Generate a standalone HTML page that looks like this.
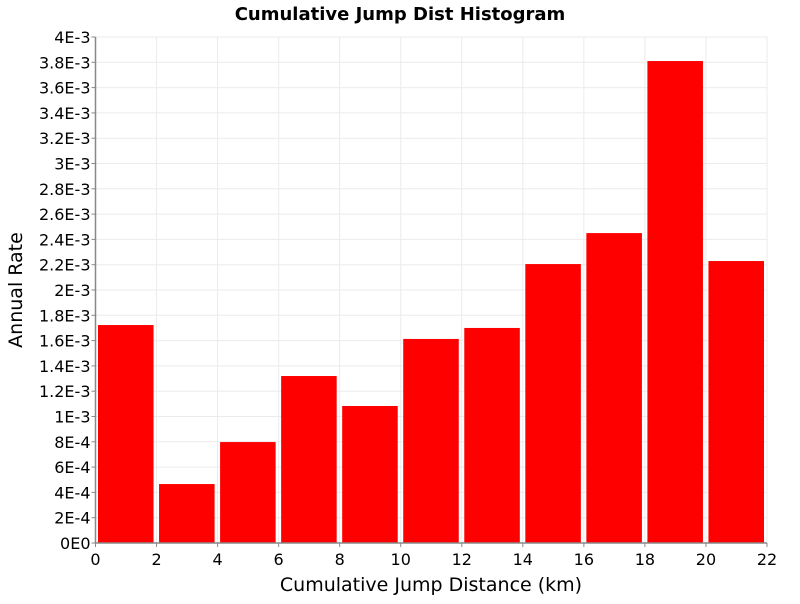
<!DOCTYPE html>
<html><head><meta charset="utf-8"><style>
body{margin:0;background:#fff;font-family:"DejaVu Sans","Liberation Sans",sans-serif;}
</style></head><body>
<svg width="800" height="600" xmlns="http://www.w3.org/2000/svg">
<g id="plot"></g>
</svg>
<script>
const binStarts=[0,2,4,6,8,10,12,14,16,18,20];
const rates=[1.723e-3,0.466e-3,0.798e-3,1.32e-3,1.083e-3,1.613e-3,1.70e-3,2.205e-3,2.45e-3,3.81e-3,2.229e-3];
const xTicks=[0,2,4,6,8,10,12,14,16,18,20,22];
const yTicks=[0,2e-4,4e-4,6e-4,8e-4,1e-3,1.2e-3,1.4e-3,1.6e-3,1.8e-3,2e-3,2.2e-3,2.4e-3,2.6e-3,2.8e-3,3e-3,3.2e-3,3.4e-3,3.6e-3,3.8e-3,4e-3];
const yTickLabels=["0E0","2E-4","4E-4","6E-4","8E-4","1E-3","1.2E-3","1.4E-3","1.6E-3","1.8E-3","2E-3","2.2E-3","2.4E-3","2.6E-3","2.8E-3","3E-3","3.2E-3","3.4E-3","3.6E-3","3.8E-3","4E-3"];
const binWidth=2;
const L=95.5,R=767,T=37,B=543;
const xs=v=>L+(v-0)/(22-0)*(R-L);
const ys=v=>B-(v/4e-3)*(B-T);
const svg=document.querySelector('svg');
const NS="http://www.w3.org/2000/svg";
function mk(tag,attrs,parent){const e=document.createElementNS(NS,tag);for(const k in attrs)e.setAttribute(k,attrs[k]);(parent||svg).appendChild(e);return e;}
const bg=mk('rect',{x:L,y:T,width:R-L,height:B-T,fill:'#fff',stroke:'#c8c8c8'});


xTicks.forEach(t=>{const l=mk('line',{x1:xs(t),x2:xs(t),y1:T,y2:B,stroke:'#ebebeb'});

});
yTicks.forEach(t=>{const l=mk('line',{x1:L,x2:R,y1:ys(t),y2:ys(t),stroke:'#ebebeb'});

});
binStarts.forEach((s,i)=>{const x0=xs(s)+2.5,x1=xs(s+binWidth)-3;
const r=mk('rect',{x:x0,y:ys(rates[i]),width:x1-x0,height:B-ys(rates[i]),fill:'#ff0000'});

});
const ax=mk('path',{d:`M${L},${T}V${B}H${R}`,stroke:'#888',fill:'none','stroke-width':1.5});


xTicks.forEach(t=>{mk('line',{x1:xs(t),x2:xs(t),y1:B,y2:B+4,stroke:'#888'});
const tx=mk('text',{x:xs(t),y:B+22,'text-anchor':'middle','font-size':16,fill:'#000'});tx.textContent=t;

});
yTicks.forEach((t,i)=>{mk('line',{x1:L-4,x2:L,y1:ys(t),y2:ys(t),stroke:'#888'});
const tx=mk('text',{x:L-5,y:ys(t)+6,'text-anchor':'end','font-size':16,fill:'#000'});tx.textContent=yTickLabels[i];

});
const ti=mk('text',{x:400,y:20,'text-anchor':'middle','font-size':18,'font-weight':'bold'});ti.textContent='Cumulative Jump Dist Histogram';


const xt=mk('text',{x:431,y:591,'text-anchor':'middle','font-size':19});xt.textContent='Cumulative Jump Distance (km)';


const yt=mk('text',{x:22,y:290,'text-anchor':'middle','font-size':19,transform:'rotate(-90 22 290)'});yt.textContent='Annual Rate';


</script>
</body></html>
